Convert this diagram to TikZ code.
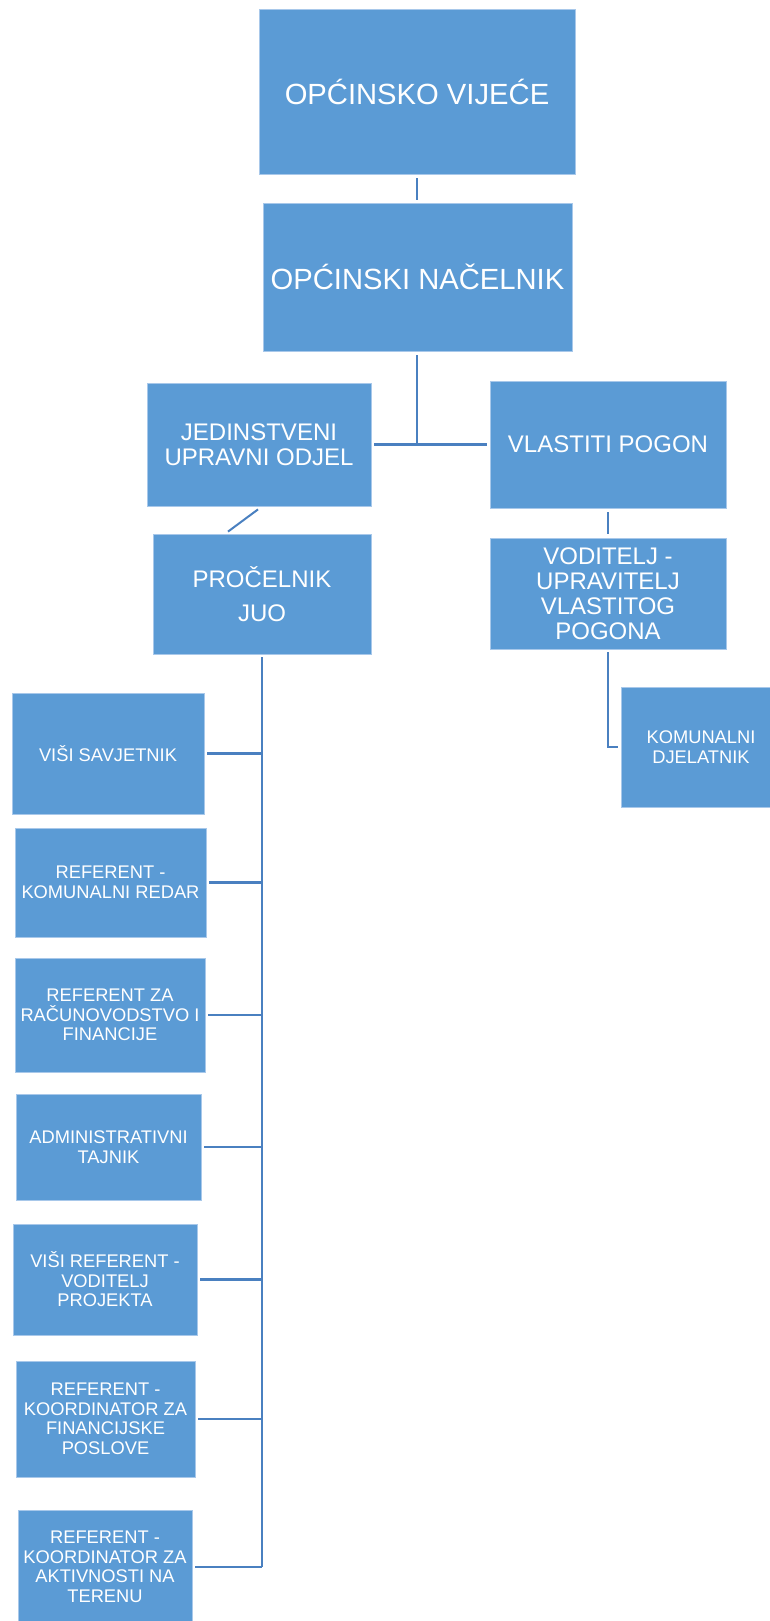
\documentclass[tikz,border=0pt]{standalone}
\usepackage{fontspec}
\setmainfont{Liberation Sans}
\usetikzlibrary{calc}
\definecolor{boxblue}{HTML}{5B9BD5}
\definecolor{boxedge}{HTML}{A8C8EA}
\definecolor{linkblue}{HTML}{4A80C0}
\tikzset{
  box/.style={rectangle, fill=boxblue, draw=boxedge, line width=0.8pt, text=white, align=center, inner sep=0pt},
  big/.style={font=\fontsize{29.2}{33}\selectfont},
  mid/.style={font=\fontsize{24}{25}\selectfont},
  small/.style={font=\fontsize{18.3}{19.5}\selectfont},
  link/.style={draw=linkblue, line width=2.8pt},
}
\begin{document}
\begin{tikzpicture}[x=1pt,y=-1pt]
\useasboundingbox (0,0) rectangle (769,1621);
% top
\node[box,big,minimum width=316,minimum height=165] (viv) at (417,91.5) {OPĆINSKO VIJEĆE};
\node[box,big,minimum width=309,minimum height=148] (nac) at (417.5,277) {OPĆINSKI NAČELNIK};
\node[box,mid,minimum width=224,minimum height=123] (juo) at (259,444.5) {JEDINSTVENI\\UPRAVNI ODJEL};
\node[box,mid,minimum width=236,minimum height=127] (vp) at (608,444.5) {VLASTITI POGON};
\node[box,minimum width=218,minimum height=120,font=\fontsize{24}{34}\selectfont] (pro) at (262,594) {PROČELNIK\\JUO};
\node[box,mid,minimum width=236,minimum height=111] (vod) at (608,593.5) {VODITELJ -\\UPRAVITELJ\\VLASTITOG\\POGONA};
\node[box,small,minimum width=160,minimum height=120] (kom) at (701,747) {KOMUNALNI\\DJELATNIK};
% left column
\node[box,small,minimum width=192,minimum height=121] (l1) at (108,753.5) {VIŠI SAVJETNIK};
\node[box,small,minimum width=191,minimum height=109] (l2) at (110.5,882.5) {REFERENT -\\KOMUNALNI REDAR};
\node[box,small,minimum width=190,minimum height=114] (l3) at (110,1015) {REFERENT ZA\\RAČUNOVODSTVO I\\FINANCIJE};
\node[box,small,minimum width=185,minimum height=106] (l4) at (108.5,1147) {ADMINISTRATIVNI\\TAJNIK};
\node[box,small,minimum width=184,minimum height=111] (l5) at (105,1279.5) {VIŠI REFERENT -\\VODITELJ\\PROJEKTA};
\node[box,small,minimum width=179,minimum height=116] (l6) at (105.5,1419) {REFERENT -\\KOORDINATOR ZA\\FINANCIJSKE\\POSLOVE};
\node[box,small,minimum width=174,minimum height=114] (l7) at (105,1567) {REFERENT -\\KOORDINATOR ZA\\AKTIVNOSTI NA\\TERENU};
% connectors
\draw[link,shorten <=4pt,shorten >=3pt] (viv.south) -- (viv.south |- nac.north);
\coordinate (junc) at (417,444.5);
\draw[link,shorten <=4pt] (nac.south -| junc) -- (junc);
\draw[link,shorten <=3pt,shorten >=3pt] (juo.east) -- (vp.west);
\draw[link,line width=2pt] ($(juo.south)+(-1,3)$) -- ($(pro.north)+(-34,-2)$);
\draw[link,shorten <=4pt,shorten >=4pt] (vp.south) -- (vod.north);
\draw[link] ($(vod.south)+(0,3)$) |- ($(kom.west)+(-3,0)$);
\coordinate (spineend) at (262,1567);
\draw[link] ($(pro.south)+(0,3)$) -- (spineend);
\foreach \b in {l1,l2,l3,l4,l5,l6,l7} {
  \draw[link] ($(\b.east)+(3,0)$) -- (\b.east -| spineend);
}
\end{tikzpicture}
\end{document}
